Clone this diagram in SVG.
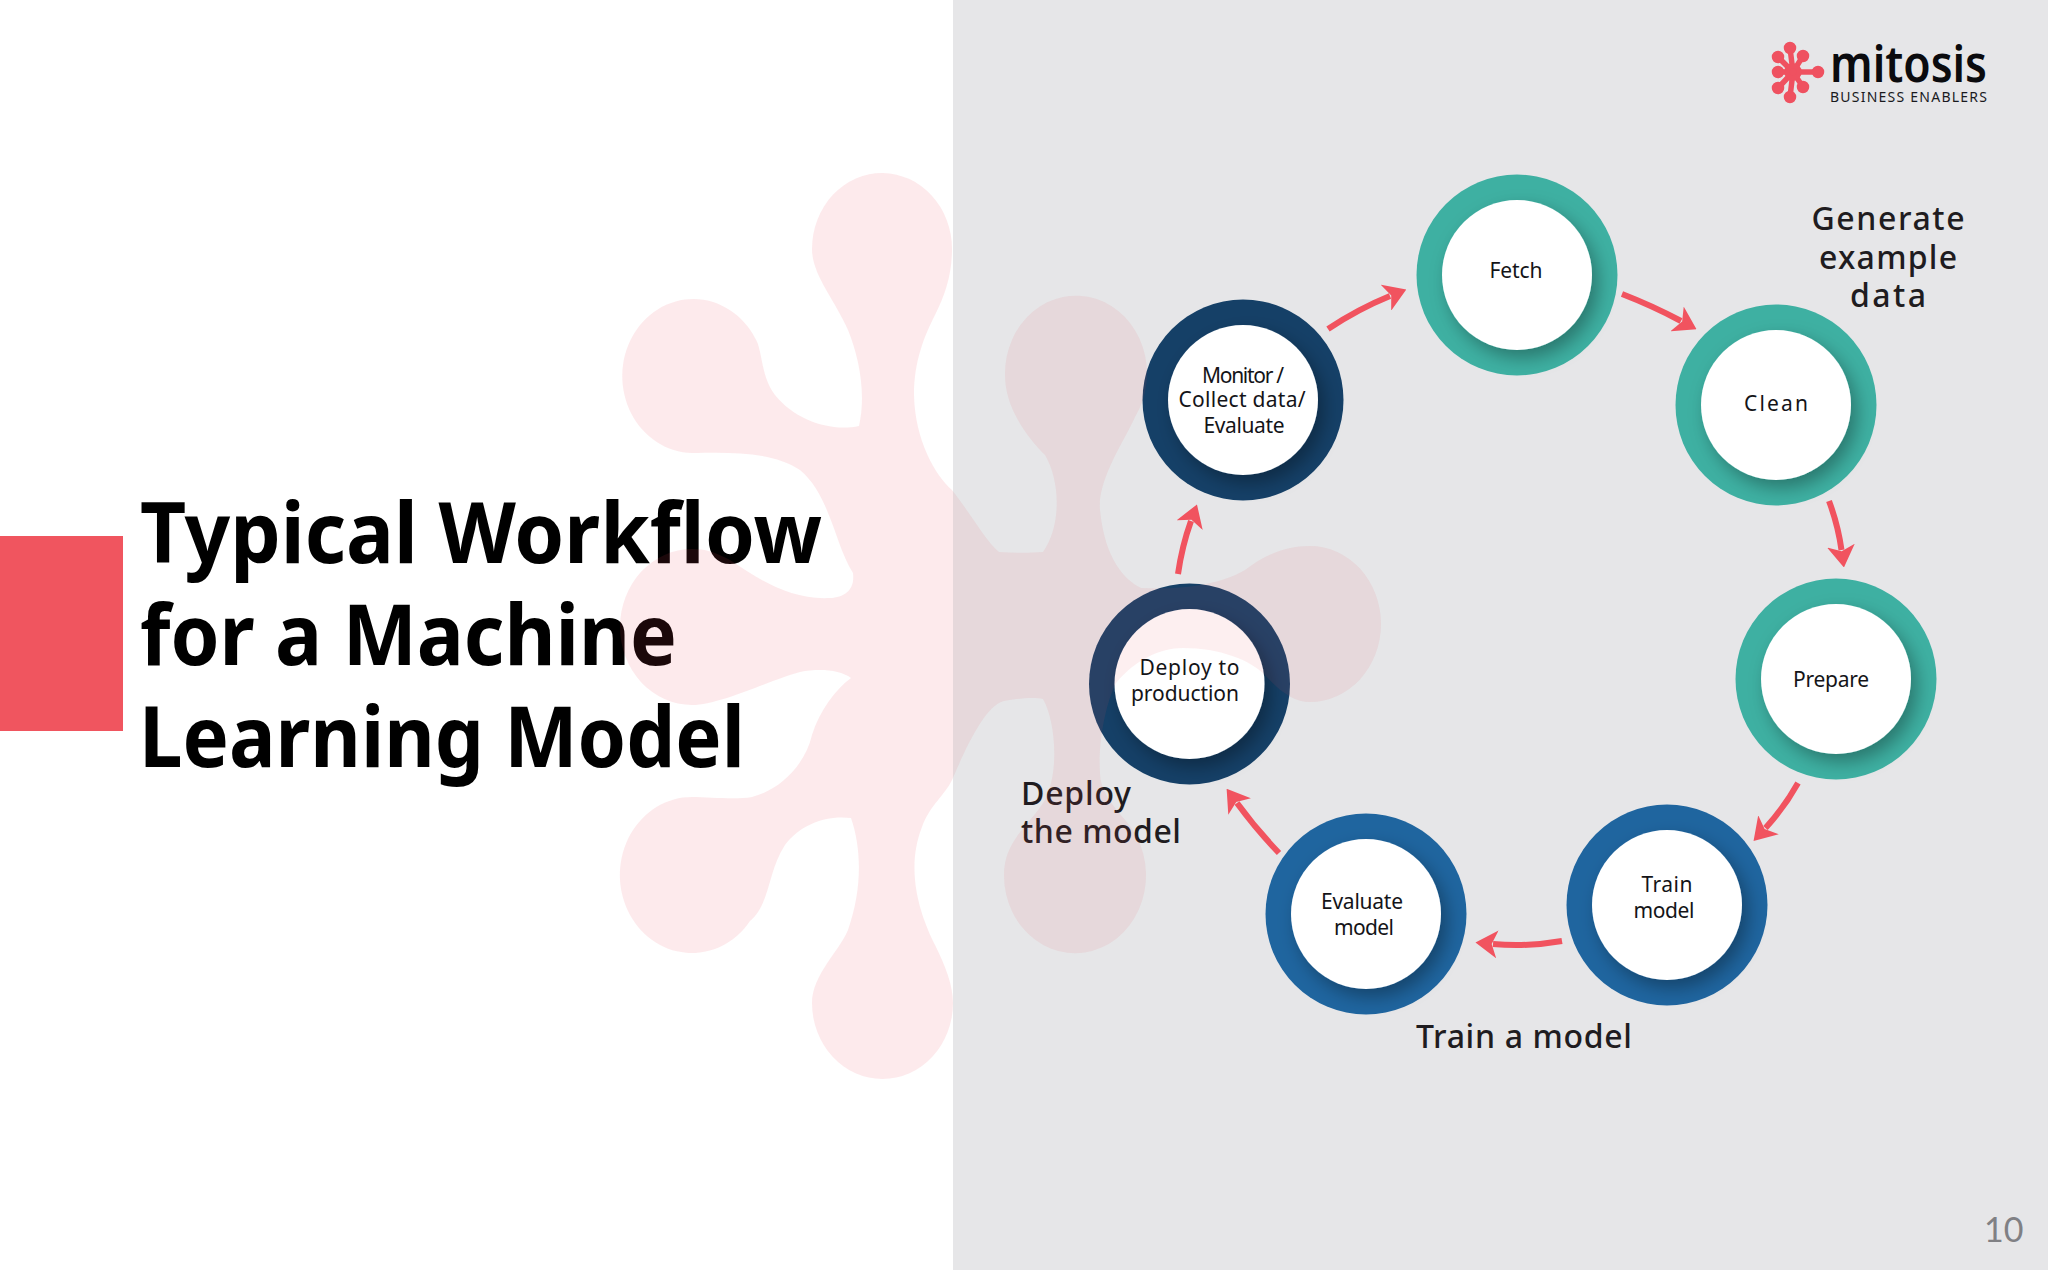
<svg xmlns="http://www.w3.org/2000/svg" xmlns:xlink="http://www.w3.org/1999/xlink" width="2048" height="1270" viewBox="0 0 2048 1270">
<style>
text{font-family:"Noto Sans","Open Sans","DejaVu Sans",sans-serif;fill:#141418}
.ring{stroke:none}
.teal{fill:#3eb0a2}.blue{fill:#1f659f}.navy{fill:#154067}
.disc{fill:#fff;filter:url(#sh)}
.n{font-size:21px;text-anchor:middle}
.h{font-size:32px;font-weight:500;text-anchor:middle;fill:#1f1c20}
.l{font-size:32px;font-weight:500;fill:#1f1c20}
.t{font-size:85px;font-weight:700;fill:#000}
.c{fill:none;stroke:#f1535f;stroke-width:6;marker-end:url(#ah)}
</style>
<defs>
<filter id="sh" x="-50%" y="-50%" width="200%" height="200%"><feDropShadow dx="6" dy="8" stdDeviation="9" flood-color="#000" flood-opacity=".32"/></filter>
<marker id="ah" markerUnits="userSpaceOnUse" markerWidth="22" markerHeight="28" viewBox="0 0 10 10" refX="2" refY="5" orient="auto" preserveAspectRatio="none"><path d="M0,0L10,5L0,10L2.6,5Z" fill="#f1535f"/></marker>
<clipPath id="cl"><rect x="0" y="0" width="953" height="1270"/></clipPath>
<clipPath id="cr"><rect x="953" y="0" width="1095" height="1270"/></clipPath>
<path id="blob" d="M883,173A70,76 0 0 0 812,249C812,275 835,300 848,330C860,360 866,395 859,426C830,432 795,420 775,395C760,375 763,350 755,338A71,77 0 1 0 692,453C725,453 770,450 800,470C830,495 835,545 853,573C855,590 845,597 830,598C790,600 760,580 730,560C715,552 705,549 692,549A72,78 0 0 0 692,705C720,705 770,680 800,672C820,668 840,670 851,678C835,690 820,710 812,735C805,765 780,790 752,797C735,800 710,797 692,797A72,78 0 1 0 750,921C770,905 768,870 785,845C800,825 825,815 851,818C862,850 862,890 848,930C840,950 812,975 812,1003A70.5,76 0 0 0 953,1003C953,985 945,965 935,945C920,915 905,870 922,827C930,805 945,795 952,780C965,750 985,705 1004,701C1020,698 1035,697 1043,699C1055,720 1060,770 1045,800C1030,825 1004,840 1004,875A71,78 0 1 0 1126,821C1112,805 1100,790 1100,773C1098,745 1105,705 1116,683C1135,660 1160,648 1183,648C1220,648 1250,660 1265,675C1280,692 1295,702 1310,702A71,78 0 0 0 1310,546C1285,546 1265,555 1245,570C1220,585 1180,590 1141,588C1125,580 1105,560 1100,510C1097,480 1125,440 1135,417A71,78 0 1 0 1005,375C1005,410 1030,440 1045,455C1060,480 1062,525 1043,552C1030,553 1015,553 999,552C985,540 975,520 952,490C935,475 915,440 914,395C914,360 925,335 935,315C945,295 952,275 952,249A70,76 0 0 0 883,173Z"/>
</defs>
<rect width="2048" height="1270" fill="#fff"/>
<rect x="953" y="0" width="1095" height="1270" fill="#e6e6e8"/>
<rect x="0" y="536" width="123" height="195" fill="#f0555f"/>
<g id="title">
<text class="t" x="140" y="563" textLength="682" lengthAdjust="spacingAndGlyphs">Typical Workflow</text>
<text class="t" x="140" y="665" textLength="537" lengthAdjust="spacingAndGlyphs">for a Machine</text>
<text class="t" x="139" y="767" textLength="606" lengthAdjust="spacingAndGlyphs">Learning Model</text>
</g>
<g id="logo">
<g stroke="#ef5160" stroke-width="5.5" stroke-linecap="round" fill="#ef5160">
<path d="M1793,72L1790,48M1793,72L1803,56M1793,72L1778,57M1793,72L1778,72M1793,72L1818,72M1793,72L1778,88M1793,72L1790,97M1793,72L1803,87" fill="none"/>
<circle cx="1793" cy="72" r="6"/>
<circle cx="1790" cy="48" r="3.5"/><circle cx="1803" cy="56" r="3.5"/><circle cx="1778" cy="57" r="3.5"/><circle cx="1778" cy="72" r="3.5"/><circle cx="1818" cy="72" r="3.5"/><circle cx="1778" cy="88" r="3.5"/><circle cx="1790" cy="97" r="3.5"/><circle cx="1803" cy="87" r="3.5"/>
</g>
<text x="1830" y="82" font-size="50" font-weight="600" textLength="157" lengthAdjust="spacingAndGlyphs" style="fill:#0b0b0e">mitosis</text>
<text x="1830" y="102" font-size="14" textLength="157" lengthAdjust="spacing" style="fill:#1a1a1e">BUSINESS ENABLERS</text>
</g>
<g id="fetch"><circle class="ring teal" cx="1517" cy="275" r="100.5"/><circle class="disc" cx="1517" cy="275" r="75"/><text class="n" x="1516" y="278" textLength="53">Fetch</text></g>
<g id="clean"><circle class="ring teal" cx="1776" cy="405" r="100.5"/><circle class="disc" cx="1776" cy="405" r="75"/><text class="n" x="1776" y="411" textLength="64">Clean</text></g>
<g id="prepare"><circle class="ring teal" cx="1836" cy="679" r="100.5"/><circle class="disc" cx="1836" cy="679" r="75"/><text class="n" x="1831" y="687" textLength="76">Prepare</text></g>
<g id="train"><circle class="ring blue" cx="1667" cy="905" r="100.5"/><circle class="disc" cx="1667" cy="905" r="75"/><text class="n" x="1667" y="892" textLength="51">Train</text><text class="n" x="1664" y="918" textLength="61">model</text></g>
<g id="evaluate"><circle class="ring blue" cx="1366" cy="914" r="100.5"/><circle class="disc" cx="1366" cy="914" r="75"/><text class="n" x="1362" y="909" textLength="82">Evaluate</text><text class="n" x="1364" y="935" textLength="60">model</text></g>
<g id="deploy"><circle class="ring navy" cx="1189.5" cy="684" r="100.5"/><circle class="disc" cx="1189.5" cy="684" r="75"/><text class="n" x="1189.5" y="675" textLength="100">Deploy to</text><text class="n" x="1185" y="701" textLength="108">production</text></g>
<g id="monitor"><circle class="ring navy" cx="1243" cy="400" r="100.5"/><circle class="disc" cx="1243" cy="400" r="75"/><text class="n" x="1243" y="383" textLength="82">Monitor /</text><text class="n" x="1242" y="407" textLength="127">Collect data/</text><text class="n" x="1244" y="433" textLength="81">Evaluate</text></g>
<g id="connectors">
<path class="c" d="M1328,329Q1358,309 1390,296"/>
<path class="c" d="M1622,294Q1653,306 1681,321"/>
<path class="c" d="M1829,501Q1838,525 1841.5,550"/>
<path class="c" d="M1798,783Q1784,808 1765.5,828"/>
<path class="c" d="M1562,941Q1528,947 1493,944"/>
<path class="c" d="M1279,853Q1256,829 1237,803"/>
<path class="c" d="M1178,574Q1182,546 1191,521"/>
</g>
<g id="labels">
<text class="h" x="1888" y="230" textLength="153">Generate</text>
<text class="h" x="1888" y="269" textLength="138">example</text>
<text class="h" x="1888" y="307" textLength="76">data</text>
<text class="l" x="1021" y="805" textLength="110">Deploy</text>
<text class="l" x="1021" y="843" textLength="160">the model</text>
<text class="l" x="1416" y="1048" textLength="216">Train a model</text>
</g>
<text id="page" x="1984" y="1242" font-size="34" style="font-family:Lato,'Noto Sans',sans-serif;fill:#808084">10</text>
<g id="watermark" fill="#ee4a5a">
<use xlink:href="#blob" href="#blob" clip-path="url(#cl)" opacity=".115"/>
<use xlink:href="#blob" href="#blob" clip-path="url(#cr)" opacity=".09"/>
</g>
</svg>
